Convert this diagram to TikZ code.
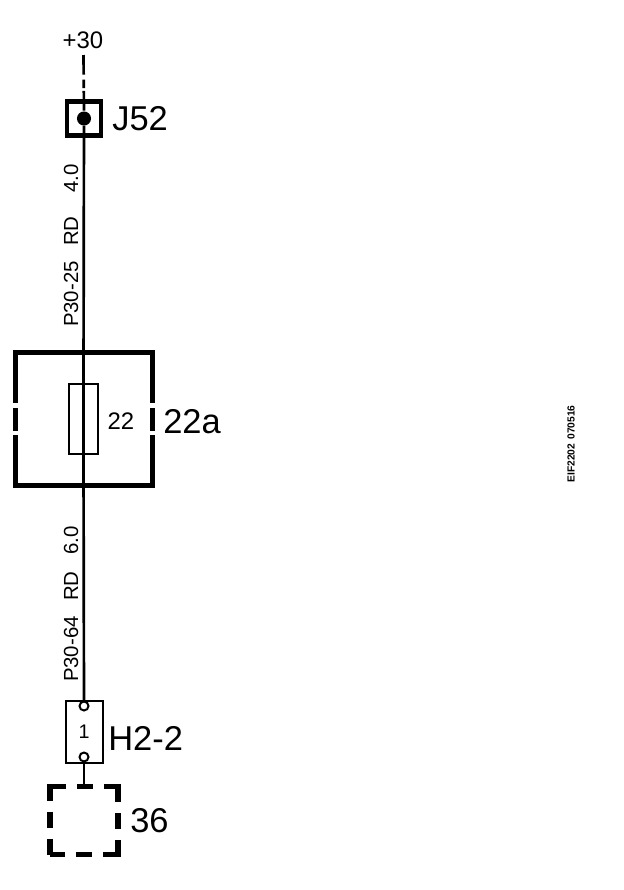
\documentclass[tikz,border=0pt]{standalone}
\usepackage{fontspec}
\setmainfont{Liberation Sans}
\tikzset{
  wire/.style={line width=1.9pt},
  bigtext/.style={font=\fontsize{24.5}{24}\selectfont,inner sep=0pt},
  smalltext/.style={font=\fontsize{17}{17}\selectfont,inner sep=0pt},
  wiretext/.style={font=\fontsize{14.5}{15}\selectfont,inner sep=0pt,rotate=90},
  heavyline/.style={line width=3.6pt},
  pinbox/.style={draw,line width=1.5pt,inner sep=0pt,outer sep=0pt,fill=white},
  pincircle/.style={circle,draw,line width=1.4pt,fill=white,inner sep=0pt,outer sep=0pt,minimum size=6.4pt}
}
\begin{document}
\begin{tikzpicture}[x=0.025cm,y=-0.025cm]
  \useasboundingbox (0,0) rectangle (624,890);
  % supply and connection point
  \node[smalltext] (supply) at (83,40) {+30};
  \coordinate (supplyend) at (83.5,55);
  \node[draw,line width=3pt,inner sep=0pt,outer sep=0pt,minimum size=0.85cm] (jbox) at (84,118.5) {};
  \node[circle,fill,inner sep=0pt,outer sep=0pt,minimum size=10pt] (jdot) at (84,118.5) {};
  \node[bigtext,anchor=west] (jlabel) at (112,119) {J52};
  \draw[wire,dash pattern=on 14pt off 3.5pt on 6pt off 2pt] (supplyend) -- (jdot.north);
  % fuse
  \node[minimum width=3.425cm,minimum height=3.325cm,inner sep=0pt,outer sep=0pt] (fuseframe) at (84,419) {};
  \draw[heavyline] (15.5,403) |- (152.5,352.5) -- (152.5,403);
  \draw[heavyline] (15.5,408) -- (15.5,431);
  \draw[heavyline] (152.5,408) -- (152.5,431);
  \draw[heavyline] (15.5,435) |- (152.5,485.5) -- (152.5,435);
  \node[draw,line width=1.5pt,inner sep=0pt,outer sep=0pt,minimum width=0.725cm,minimum height=1.75cm] (fuse) at (83.5,419) {};
  \node[font=\fontsize{17}{17}\selectfont,inner sep=0pt] (fusenum) at (121,421) {22};
  \node[bigtext,anchor=west] (fuselabel) at (163,422) {22a};
  \draw[wire] (jdot) -- (fuse.north);
  \draw[wire] (fuse.north) -- (fuse.south);
  \node[wiretext] (wireA) at (71,245.5) {P30-25\hspace{11pt}RD\hspace{17pt}4.0};
  \node[wiretext] (wireB) at (71,604) {P30-64\hspace{11pt}RD\hspace{12pt}6.0};
  % connector
  \node[pinbox,minimum width=0.925cm,minimum height=1.55cm] (hbox) at (84.5,732) {};
  \node[pincircle] (hpinA) at (84,706) {};
  \node[pincircle] (hpinB) at (84,757) {};
  \node[font=\fontsize{14}{14}\selectfont,inner sep=0pt] (hnum) at (84,732) {1};
  \node[bigtext,anchor=west] (hlabel) at (108,738) {H2-2};
  \draw[wire] (fuse.south) -- (hpinA);
  % next page box
  \node[minimum size=1.7cm,inner sep=0pt,outer sep=0pt,draw,line width=3.6pt,dash pattern=on 21.3pt off 7.8pt on 11.3pt off 7.8pt,dash phase=10.65pt] (nextbox) at (84,820.5) {};
  \node[bigtext,anchor=west] (nextlabel) at (130,821) {36};
  \draw[wire] (hpinB) -- (nextbox.north);
  % drawing number
  \node[font=\bfseries\fontsize{7.3}{8}\selectfont,inner sep=0pt,rotate=90] (drawno) at (571,444) {EIF2202\hspace{3pt}070516};
\end{tikzpicture}
\end{document}
